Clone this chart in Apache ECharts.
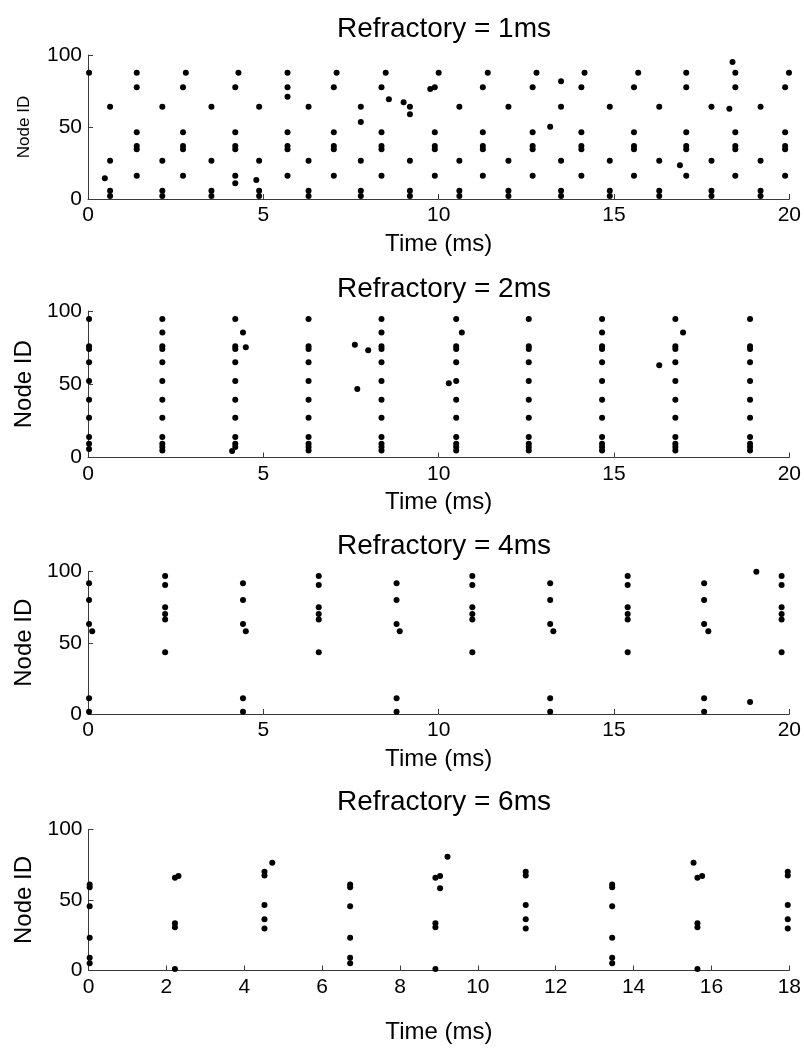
<!DOCTYPE html>
<html>
<head>
<meta charset="utf-8">
<script src="https://cdn.jsdelivr.net/npm/echarts@6/dist/echarts.min.js"></script>
<style>html,body{margin:0;padding:0;background:#fff;}#c{width:804px;height:1050px;}</style>
</head>
<body>
<div id="c"></div>
<script>
// ---- Titles / labels ----
const panelTitles = ['Refractory = 1ms', 'Refractory = 2ms', 'Refractory = 4ms', 'Refractory = 6ms'];
const xName = 'Time (ms)';
const yName = 'Node ID';
const xMax = [20, 20, 20, 18];
const xStep = [5, 5, 5, 2];
const yTicks = [0, 50, 100];

// ---- Panel 1 (Refractory = 1ms): [time ms, node id] ----
const raster1 = [
  [0.03, 87.7], [0.48, 14.4],
  [0.63, 64.1], [0.63, 26.6], [0.63, 5.8], [0.63, 2.1],
  [1.39, 87.7], [1.39, 77.6], [1.39, 46.3], [1.39, 36.8], [1.39, 34.5], [1.39, 16.2],
  [2.12, 64.1], [2.12, 26.6], [2.12, 5.8], [2.12, 2.1],
  [2.79, 87.7], [2.71, 77.6], [2.71, 46.3], [2.71, 36.8], [2.71, 34.5], [2.71, 16.2],
  [3.52, 64.1], [3.52, 26.6], [3.52, 5.8], [3.52, 2.1],
  [4.29, 87.7], [4.20, 77.6], [4.20, 46.3], [4.20, 36.8], [4.20, 34.5], [4.20, 16.2], [4.20, 10.9],
  [4.80, 13.2],
  [4.88, 64.1], [4.88, 26.6], [4.88, 5.8], [4.88, 2.1],
  [5.69, 87.7], [5.69, 77.6], [5.69, 71.0], [5.69, 46.3], [5.69, 36.8], [5.69, 34.5], [5.69, 16.2],
  [6.29, 64.1], [6.29, 26.6], [6.29, 5.8], [6.29, 2.1],
  [7.09, 87.7], [7.01, 77.6], [7.01, 46.3], [7.01, 36.8], [7.01, 34.5], [7.01, 16.2],
  [7.78, 64.1], [7.78, 53.5], [7.78, 26.6], [7.78, 5.8], [7.78, 2.1],
  [8.49, 87.7], [8.37, 77.6], [8.37, 46.3], [8.37, 36.8], [8.37, 34.5], [8.37, 16.2],
  [8.58, 69.2], [9.00, 67.2],
  [9.18, 64.1], [9.18, 58.8], [9.18, 26.6], [9.18, 5.8], [9.18, 2.1],
  [9.76, 76.4],
  [10.0, 87.7], [9.89, 77.6], [9.89, 46.3], [9.89, 36.8], [9.89, 34.5], [9.89, 16.2],
  [10.59, 64.1], [10.59, 26.6], [10.59, 5.8], [10.59, 2.1],
  [11.40, 87.7], [11.26, 77.6], [11.26, 46.3], [11.26, 36.8], [11.26, 34.5], [11.26, 16.2],
  [11.99, 64.1], [11.99, 26.6], [11.99, 5.8], [11.99, 2.1],
  [12.79, 87.7], [12.68, 77.6], [12.68, 46.3], [12.68, 36.8], [12.68, 34.5], [12.68, 16.2],
  [13.18, 50.2],
  [13.49, 81.7], [13.49, 64.1], [13.49, 26.6], [13.49, 5.8], [13.49, 2.1],
  [14.16, 87.7], [14.07, 77.6], [14.07, 46.3], [14.07, 36.8], [14.07, 34.5], [14.07, 16.2],
  [14.88, 64.1], [14.88, 26.6], [14.88, 5.8], [14.88, 2.1],
  [15.69, 87.7], [15.57, 77.6], [15.57, 46.3], [15.57, 36.8], [15.57, 34.5], [15.57, 16.2],
  [16.29, 64.1], [16.29, 26.6], [16.29, 5.8], [16.29, 2.1],
  [16.88, 23.4],
  [17.06, 87.7], [17.06, 77.6], [17.06, 46.3], [17.06, 36.8], [17.06, 34.5], [17.06, 16.2],
  [17.78, 64.1], [17.78, 26.6], [17.78, 5.8], [17.78, 2.1],
  [18.29, 62.7], [18.38, 95.1],
  [18.46, 87.7], [18.46, 77.6], [18.46, 46.3], [18.46, 36.8], [18.46, 34.5], [18.46, 16.2],
  [19.18, 64.1], [19.18, 26.6], [19.18, 5.8], [19.18, 2.1],
  [19.99, 87.7], [19.88, 77.6], [19.88, 46.3], [19.88, 36.8], [19.88, 34.5], [19.88, 16.2]
];

// ---- Panel 2 (Refractory = 2ms) ----
const raster2 = [
  [0.03, 94.5], [0.03, 75.9], [0.03, 74.1], [0.03, 65.0], [0.03, 52.2], [0.03, 39.5], [0.03, 27.2], [0.03, 14.0], [0.03, 9.4], [0.03, 5.8],
  [2.12, 94.5], [2.12, 85.4], [2.12, 75.9], [2.12, 74.1], [2.12, 65.0], [2.12, 52.2], [2.12, 39.5], [2.12, 27.2], [2.12, 14.0], [2.12, 9.4], [2.12, 7.1], [2.12, 4.8],
  [4.20, 94.5], [4.20, 75.9], [4.20, 74.1], [4.20, 65.0], [4.20, 52.2], [4.20, 39.5], [4.20, 27.2], [4.20, 14.0], [4.20, 9.4], [4.20, 7.1], [4.11, 4.4],
  [4.42, 85.4], [4.50, 75.2],
  [6.29, 94.5], [6.29, 75.9], [6.29, 74.1], [6.29, 65.0], [6.29, 52.2], [6.29, 39.5], [6.29, 27.2], [6.29, 14.0], [6.29, 9.4], [6.29, 7.1], [6.29, 4.8],
  [7.61, 77.0], [7.68, 46.8], [7.99, 73.2],
  [8.37, 94.5], [8.37, 85.4], [8.37, 75.9], [8.37, 74.1], [8.37, 65.0], [8.37, 52.2], [8.37, 39.5], [8.37, 27.2], [8.37, 14.0], [8.37, 9.4], [8.37, 7.1], [8.37, 4.8],
  [10.29, 50.6],
  [10.50, 94.5], [10.50, 75.9], [10.50, 74.1], [10.50, 65.0], [10.50, 52.2], [10.50, 39.5], [10.50, 27.2], [10.50, 14.0], [10.50, 9.4], [10.50, 7.1], [10.50, 4.8],
  [10.66, 85.4],
  [12.57, 94.5], [12.57, 75.9], [12.57, 74.1], [12.57, 65.0], [12.57, 52.2], [12.57, 39.5], [12.57, 27.2], [12.57, 14.0], [12.57, 9.4], [12.57, 7.1], [12.57, 4.8],
  [14.66, 94.5], [14.66, 85.4], [14.66, 75.9], [14.66, 74.1], [14.66, 65.0], [14.66, 52.2], [14.66, 39.5], [14.66, 27.2], [14.66, 14.0], [14.66, 9.4], [14.66, 7.1], [14.66, 4.8],
  [16.29, 62.9],
  [16.75, 94.5], [16.75, 75.9], [16.75, 74.1], [16.75, 65.0], [16.75, 52.2], [16.75, 39.5], [16.75, 27.2], [16.75, 14.0], [16.75, 9.4], [16.75, 7.1], [16.75, 4.8],
  [16.97, 85.4],
  [18.88, 94.5], [18.88, 75.9], [18.88, 74.1], [18.88, 65.0], [18.88, 52.2], [18.88, 39.5], [18.88, 27.2], [18.88, 14.0], [18.88, 9.4], [18.88, 7.1], [18.88, 4.8]
];

// ---- Panel 3 (Refractory = 4ms) ----
const raster3 = [
  [0.03, 91.7], [0.03, 80.0], [0.03, 63.2], [0.03, 11.0], [0.03, 1.6], [0.12, 58.0],
  [2.20, 96.8], [2.20, 90.5], [2.20, 74.9], [2.20, 70.2], [2.20, 66.4], [2.20, 43.3],
  [4.42, 91.7], [4.42, 80.0], [4.42, 63.2], [4.42, 11.0], [4.42, 1.6], [4.50, 58.0],
  [6.58, 96.8], [6.58, 90.5], [6.58, 74.9], [6.58, 70.2], [6.58, 66.4], [6.58, 43.3],
  [8.80, 91.7], [8.80, 80.0], [8.80, 63.2], [8.80, 11.0], [8.80, 1.6], [8.89, 58.0],
  [10.96, 96.8], [10.96, 90.5], [10.96, 74.9], [10.96, 70.2], [10.96, 66.4], [10.96, 43.3],
  [13.18, 91.7], [13.18, 80.0], [13.18, 63.2], [13.18, 11.0], [13.18, 1.6], [13.27, 58.0],
  [15.39, 96.8], [15.39, 90.5], [15.39, 74.9], [15.39, 70.2], [15.39, 66.4], [15.39, 43.3],
  [17.57, 91.7], [17.57, 80.0], [17.57, 63.2], [17.57, 11.0], [17.57, 1.6], [17.69, 58.0],
  [18.88, 8.4], [19.06, 99.9],
  [19.78, 96.8], [19.78, 90.5], [19.78, 74.9], [19.78, 70.2], [19.78, 66.4], [19.78, 43.3]
];

// ---- Panel 4 (Refractory = 6ms) ----
const raster4 = [
  [0.03, 61.0], [0.03, 59.0], [0.03, 45.5], [0.03, 23.3], [0.03, 9.1], [0.03, 5.1],
  [2.22, 65.8], [2.31, 67.0], [2.22, 33.5], [2.22, 30.6], [2.22, 1.0],
  [4.52, 70.1], [4.52, 67.3], [4.52, 46.5], [4.52, 36.3], [4.52, 29.7], [4.72, 76.5],
  [6.72, 61.0], [6.72, 59.0], [6.72, 45.5], [6.72, 23.3], [6.72, 9.1], [6.72, 5.1],
  [8.91, 65.8], [9.03, 67.0], [9.03, 58.3], [8.91, 33.5], [8.91, 30.6], [8.91, 1.0], [9.22, 80.7],
  [11.23, 70.1], [11.23, 67.3], [11.23, 46.5], [11.23, 36.3], [11.23, 29.7],
  [13.45, 61.0], [13.45, 59.0], [13.45, 45.5], [13.45, 23.3], [13.45, 9.1], [13.45, 5.1],
  [15.54, 76.5], [15.64, 65.8], [15.76, 67.0], [15.64, 33.5], [15.64, 30.6], [15.64, 1.0],
  [17.96, 70.1], [17.96, 67.3], [17.96, 46.5], [17.96, 36.3], [17.96, 29.7]
];

const rasters = [raster1, raster2, raster3, raster4];

// ---- layout ----
const FONT = 'Liberation Sans, Arial, sans-serif';
const grids = [
  { left: 88, width: 702, top: 55, height: 144 },
  { left: 88, width: 702, top: 311, height: 146.5 },
  { left: 88, width: 702, top: 571.5, height: 142.5 },
  { left: 88.5, width: 701, top: 829.5, height: 141 }
];
const titleTops = [10, 270, 527, 783];
const xNameGaps = [33, 33, 33, 50];
const yNameSize = [17, 24, 24, 24];
const yNameGaps = [55, 48, 48, 48];

const axisLine = { show: true, lineStyle: { color: '#3a3a3a', width: 1 } };
const option = {
  animation: false,
  backgroundColor: '#ffffff',
  title: panelTitles.map((t, i) => ({
    text: t,
    left: 439,
    top: titleTops[i],
    textAlign: 'center',
    textStyle: { fontFamily: FONT, fontSize: 28, fontWeight: 'normal', color: '#000' }
  })),
  grid: grids,
  xAxis: grids.map((g, i) => ({
    type: 'value', gridIndex: i, min: 0, max: xMax[i], interval: xStep[i],
    name: xName, nameLocation: 'middle', nameGap: xNameGaps[i],
    nameTextStyle: { fontFamily: FONT, fontSize: 24, color: '#000' },
    axisLine: axisLine,
    axisTick: { show: true, inside: true, length: 5, lineStyle: { color: '#3a3a3a' } },
    axisLabel: { fontFamily: FONT, fontSize: 21, color: '#000', margin: 6 },
    splitLine: { show: false }
  })),
  yAxis: grids.map((g, i) => ({
    type: 'value', gridIndex: i, min: yTicks[0], max: yTicks[yTicks.length - 1], interval: yTicks[1] - yTicks[0],
    name: yName, nameLocation: 'middle', nameGap: yNameGaps[i], nameRotate: 90,
    nameTextStyle: { fontFamily: FONT, fontSize: yNameSize[i], color: '#000' },
    axisLine: axisLine,
    axisTick: { show: true, inside: true, length: 5, lineStyle: { color: '#3a3a3a' } },
    axisLabel: { fontFamily: FONT, fontSize: 21, color: '#000', margin: 6 },
    splitLine: { show: false }
  })),
  series: rasters.map((d, i) => ({
    type: 'scatter', xAxisIndex: i, yAxisIndex: i,
    data: d, symbol: 'circle', symbolSize: 6,
    itemStyle: { color: '#000', opacity: 1 },
    clip: false
  }))
};
const chart = echarts.init(document.getElementById('c'), null, { renderer: 'canvas' });
chart.setOption(option);
</script>
</body>
</html>
